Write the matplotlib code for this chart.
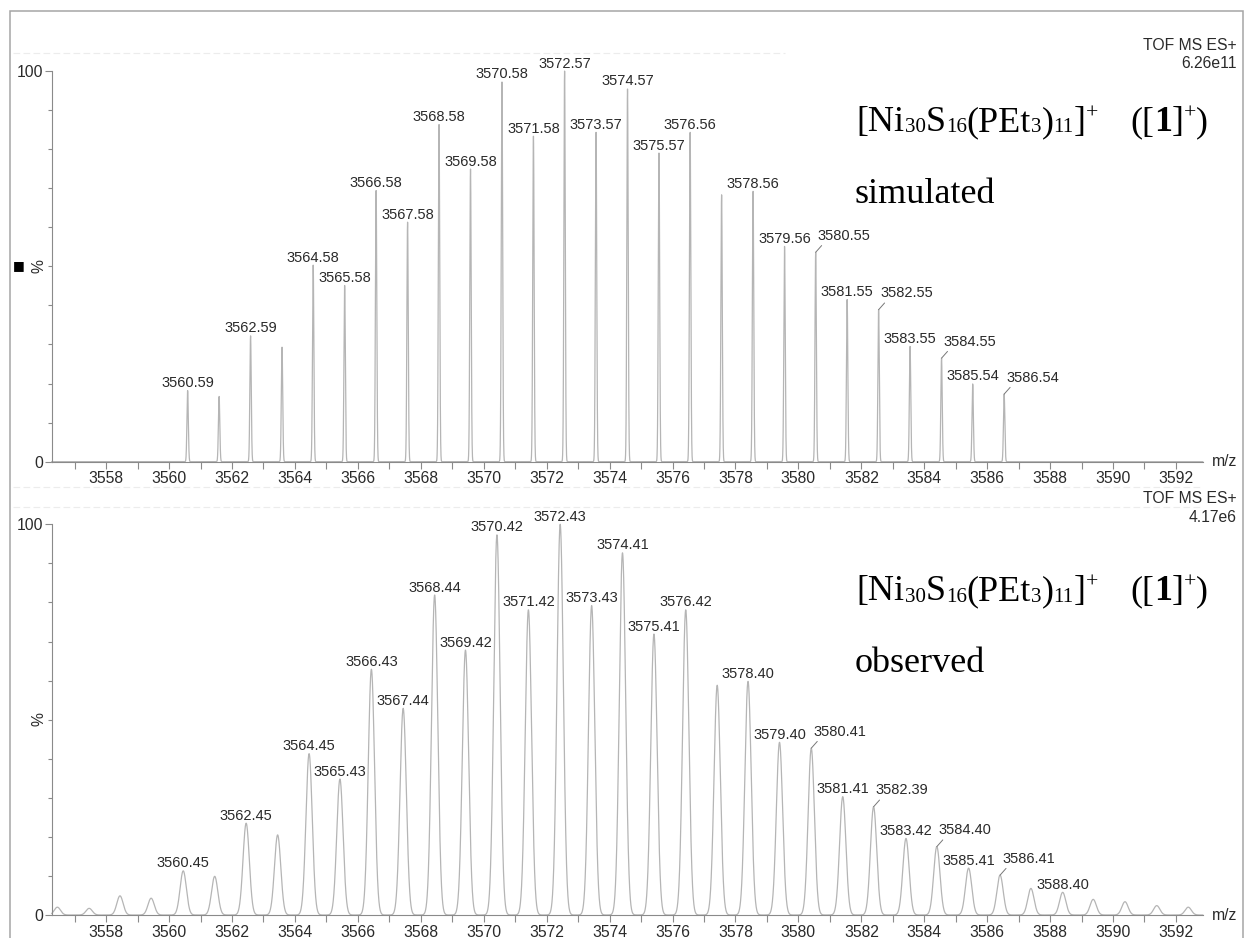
import numpy as np
import matplotlib.pyplot as plt
from matplotlib.patches import Rectangle
from matplotlib.lines import Line2D
from matplotlib.ticker import MultipleLocator, FixedLocator

plt.rcParams['font.family'] = ['Liberation Sans', 'DejaVu Sans']

# simulated isotope pattern (m/z, relative intensity %)
sim_mz = [3560.59, 3561.59, 3562.59, 3563.59, 3564.58, 3565.58, 3566.58, 3567.58,
          3568.58, 3569.58, 3570.58, 3571.58, 3572.57, 3573.57, 3574.57, 3575.57,
          3576.56, 3577.56, 3578.56, 3579.56, 3580.55, 3581.55, 3582.55, 3583.55,
          3584.55, 3585.54, 3586.54]
sim_int = [18.2, 16.7, 32.2, 29.3, 50.3, 45.1, 69.4, 61.3, 86.3, 74.9, 97.2, 83.3,
           100.0, 84.3, 95.4, 79.0, 84.3, 68.3, 69.2, 55.1, 53.6, 41.5, 38.9, 29.5,
           26.5, 19.9, 17.3]
sim_unlabeled = [3561.59, 3563.59, 3577.56]
sim_leader = [3580.55, 3582.55, 3584.55, 3586.54]

# observed spectrum
obs_mz = [3556.45, 3557.46, 3558.44, 3559.43, 3560.45, 3561.45, 3562.45, 3563.45,
          3564.45, 3565.43, 3566.43, 3567.44, 3568.44, 3569.42, 3570.42, 3571.42,
          3572.43, 3573.43, 3574.41, 3575.41, 3576.42, 3577.42, 3578.40, 3579.40,
          3580.41, 3581.41, 3582.39, 3583.42, 3584.40, 3585.41, 3586.41, 3587.39,
          3588.40, 3589.37, 3590.38, 3591.39, 3592.39]
obs_int = [2.0, 1.7, 4.9, 4.3, 11.3, 9.9, 23.5, 20.5, 41.3, 34.8, 62.9, 52.9, 81.9,
           67.8, 97.3, 78.1, 100.0, 79.2, 92.7, 71.9, 78.1, 58.8, 59.8, 44.2, 42.7,
           30.3, 27.7, 19.6, 17.5, 12.0, 10.2, 6.8, 5.8, 4.0, 3.4, 2.4, 2.0]
obs_labeled = [3560.45, 3562.45, 3564.45, 3565.43, 3566.43, 3567.44, 3568.44,
               3569.42, 3570.42, 3571.42, 3572.43, 3573.43, 3574.41, 3575.41,
               3576.42, 3578.40, 3579.40, 3580.41, 3581.41, 3582.39, 3583.42,
               3584.40, 3585.41, 3586.41, 3588.40]
obs_leader = [3580.41, 3582.39, 3584.40, 3586.41]

xlim = (3556.27, 3592.85)
W, H = 1244, 938
line_col = '#b5b5b5'
axis_col = '#8a8a8a'
txt_col = '#2a2a2a'


def profile(x, centers, heights, sigma):
    y = np.zeros_like(x)
    for c, h in zip(centers, heights):
        y += h * np.exp(-0.5 * ((x - c) / sigma) ** 2)
    return y


def style_axis(ax):
    ax.set_xlim(*xlim)
    ax.set_ylim(0, 100)
    for s in ('top', 'right'):
        ax.spines[s].set_visible(False)
    for s in ('left', 'bottom'):
        ax.spines[s].set_color(axis_col)
        ax.spines[s].set_linewidth(0.8)
    ax.xaxis.set_major_locator(MultipleLocator(2))
    ax.xaxis.set_minor_locator(FixedLocator(np.arange(3557, 3592, 2)))
    ax.yaxis.set_major_locator(FixedLocator([0, 100]))
    ax.yaxis.set_minor_locator(MultipleLocator(10))
    ax.tick_params(axis='x', which='both', length=5, width=0.8, color=axis_col,
                   labelsize=11.3, labelcolor=txt_col, pad=2)
    ax.tick_params(axis='y', which='major', length=5, width=0.8, color=axis_col,
                   labelsize=11.3, labelcolor=txt_col, pad=1)
    ax.tick_params(axis='y', which='minor', length=3, width=0.8, color=axis_col)
    ax.patch.set_visible(False)
    ax.text(1.008, 0.0, 'm/z', transform=ax.transAxes, ha='left', va='center',
            fontsize=11.3, color=txt_col)


def label_peaks(ax, mz, inten, skip=(), only=None, leader=()):
    for m, h in zip(mz, inten):
        if only is not None and m not in only:
            continue
        if m in skip:
            continue
        if m in leader:
            ax.annotate(f'{m:.2f}', xy=(m, h), xytext=(1.5, 9),
                        textcoords='offset points', ha='left', va='baseline',
                        fontsize=10.5, color=txt_col, annotation_clip=False,
                        arrowprops=dict(arrowstyle='-', color='#777777', lw=0.7,
                                        shrinkA=0, shrinkB=0, relpos=(0.12, 0.0)))
        else:
            ax.annotate(f'{m:.2f}', xy=(m, h), xytext=(0, 2.5),
                        textcoords='offset points', ha='center', va='baseline',
                        fontsize=10.5, color=txt_col, annotation_clip=False)


fig = plt.figure(figsize=(W / 100, H / 100), dpi=100)
left, width = 51.7 / W, (1202.7 - 51.7) / W
ax1 = fig.add_axes([left, 1 - 461.7 / H, width, (461.7 - 71) / H])
ax2 = fig.add_axes([left, 1 - 915 / H, width, (915 - 524.3) / H])

x = np.linspace(xlim[0], xlim[1], 40000)

ax1.plot(x, profile(x, sim_mz, sim_int, 0.022), color=line_col, lw=0.9, clip_on=False)
style_axis(ax1)
label_peaks(ax1, sim_mz, sim_int, skip=sim_unlabeled, leader=sim_leader)

ax2.plot(x, profile(x, obs_mz, obs_int, 0.1), color=line_col, lw=0.9, clip_on=False)
style_axis(ax2)
label_peaks(ax2, obs_mz, obs_int, only=obs_labeled, leader=obs_leader)


def ftext(px, py, s, **kw):
    return fig.text(px / W, 1 - py / H, s, **kw)


renderer = fig.canvas.get_renderer()


def rich_text(px, py, pieces, size):
    # pieces: (text, relative size, shift in px up, weight)
    for s, rel, dy, weight in pieces:
        t = ftext(px, py - dy, s, ha='left', va='baseline', fontsize=size * rel,
                  family='Liberation Serif', weight=weight, color='black')
        px += t.get_window_extent(renderer).width


# instrument headers
ftext(1237, 50, 'TOF MS ES+', ha='right', va='baseline', fontsize=11.3, color=txt_col)
ftext(1237, 68, '6.26e11', ha='right', va='baseline', fontsize=11.3, color=txt_col)
ftext(1237, 503, 'TOF MS ES+', ha='right', va='baseline', fontsize=11.3, color=txt_col)
ftext(1237, 521.5, '4.17e6', ha='right', va='baseline', fontsize=11.3, color=txt_col)

# y axis captions
ftext(38.5, 266, '%', rotation=90, ha='center', va='center', fontsize=11.3, color=txt_col)
ftext(38.5, 719, '%', rotation=90, ha='center', va='center', fontsize=11.3, color=txt_col)
ftext(19, 266, '\u25a0', ha='center', va='center', fontsize=9, color='black',
      family='DejaVu Sans')

# compound annotations
sub, sup = 0.58, 0.6
formula = [('[Ni', 1, 0, 'normal'), ('30', sub, -1.5, 'normal'),
           ('S', 1, 0, 'normal'), ('16', sub, -1.5, 'normal'),
           ('(PEt', 1, 0, 'normal'), ('3', sub, -1.5, 'normal'),
           (')', 1, 0, 'normal'), ('11', sub, -1.5, 'normal'),
           (']', 1, 0, 'normal'), ('+', sup, 12, 'normal')]
ion = [('([', 1, 0, 'normal'), ('1', 1, 0, 'bold'), (']', 1, 0, 'normal'),
       ('+', sup, 12, 'normal'), (')', 1, 0, 'normal')]
for base, word in ((131, 'simulated'), (600, 'observed')):
    rich_text(856.7, base, formula, 26)
    rich_text(1130, base, ion, 26)
    ftext(855, base + 72, word, ha='left', va='baseline', fontsize=26,
          color='black', family='Liberation Serif')

# faint scan lines and outer frame
for yy, x0, x1 in ((53, 13, 785), (487, 13, 1200), (507, 13, 1200)):
    fig.add_artist(Line2D([x0 / W, x1 / W], [1 - yy / H, 1 - yy / H],
                          transform=fig.transFigure, color='#ececec', lw=0.8,
                          ls=(0, (6, 3))))
fig.add_artist(Rectangle((10 / W, -0.05), (1242.7 - 10) / W, (H - 11) / H + 0.05,
                         transform=fig.transFigure, fill=False,
                         edgecolor='#a5a5a5', lw=1.1))

fig.savefig('out.png', dpi=100)
